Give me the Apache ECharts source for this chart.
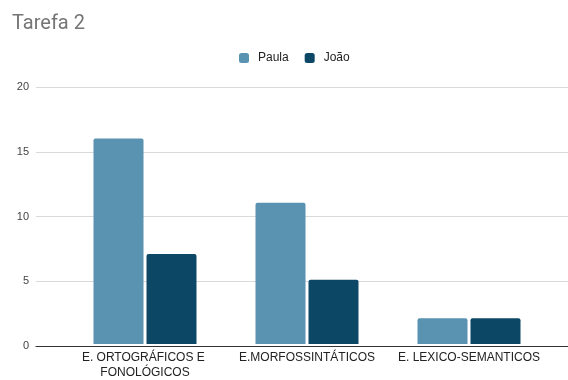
<!DOCTYPE html>
<html><head><meta charset="utf-8">
<script src="https://cdn.jsdelivr.net/npm/echarts@6/dist/echarts.min.js"></script>
<style>html,body{margin:0;padding:0;background:#fff}#c{width:568px;height:380px}</style>
</head><body><div id="c"></div>
<script>
const categories = ['E. ORTOGRÁFICOS E FONOLÓGICOS', 'E.MORFOSSINTÁTICOS', 'E. LEXICO-SEMANTICOS'];
const paula = [16, 11, 2];
const joao = [7, 5, 2];
const yTicks = [0, 5, 10, 15, 20];

const chart = echarts.init(document.getElementById('c'));
chart.setOption({
  animation: false,
  title: { text: 'Tarefa 2', left: 7, top: 9, textStyle: { fontFamily: 'Roboto', fontWeight: 'normal', fontSize: 20, color: '#757575' } },
  legend: {
    top: 47, left: 234, itemWidth: 10, itemHeight: 10, itemGap: 16,
    textStyle: { fontFamily: 'Liberation Sans', fontSize: 12, color: '#222', padding: [0, 0, 0, 4] },
    data: ['Paula', 'João']
  },
  grid: [
    { left: 36, right: 0, top: 87, bottom: 34 },
    { left: 64, right: 18, top: 87, bottom: 34 }
  ],
  xAxis: [
    { gridIndex: 0, type: 'category', data: categories, axisLine: { lineStyle: { color: '#333', width: 1 } }, axisTick: { show: false }, axisLabel: { show: false } },
    { gridIndex: 1, type: 'category', data: categories, axisLine: { show: false }, axisTick: { show: false },
      axisLabel: { fontFamily: 'Liberation Sans', fontSize: 12, color: '#222', margin: 6, width: 150, overflow: 'break', interval: 0, lineHeight: 15 } }
  ],
  yAxis: [
    { gridIndex: 0, type: 'value', min: yTicks[0], max: yTicks[yTicks.length - 1], interval: 5,
      axisLine: { show: false }, axisTick: { show: false },
      axisLabel: { fontFamily: 'Liberation Sans', fontSize: 11, color: '#444', margin: 7 },
      splitLine: { lineStyle: { color: '#d9d9d9' } } },
    { gridIndex: 1, type: 'value', min: yTicks[0], max: yTicks[yTicks.length - 1], interval: 5, show: false }
  ],
  series: [
    { name: 'Paula', type: 'bar', xAxisIndex: 1, yAxisIndex: 1, data: paula, barWidth: 50, barGap: '6%', itemStyle: { color: '#5a92b2', borderRadius: [2, 2, 0, 0] } },
    { name: 'João', type: 'bar', xAxisIndex: 1, yAxisIndex: 1, data: joao, barWidth: 50, barGap: '6%', itemStyle: { color: '#0c4865', borderRadius: [2, 2, 0, 0] } }
  ]
});
</script></body></html>
